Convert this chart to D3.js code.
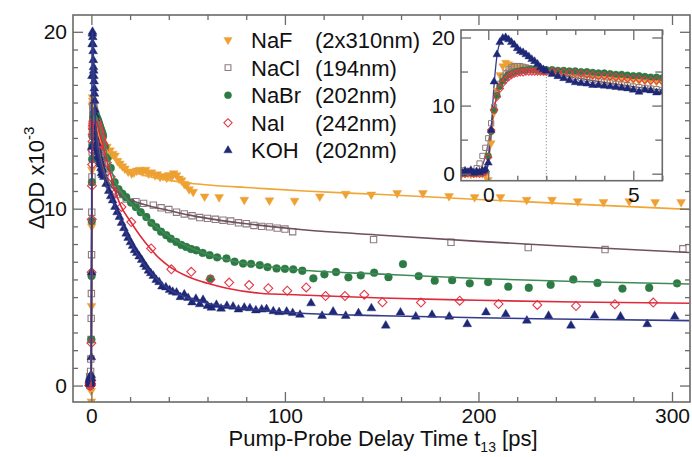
<!DOCTYPE html>
<html>
<head>
<meta charset="utf-8">
<script src="https://cdn.jsdelivr.net/npm/d3@7"></script>
<style>
  body { margin: 0; background: #fff; }
</style>
</head>
<body>
<div id="chart"></div>
<script>
// ---- data (t in ps, signal in OD x10^-3) ----
const names = ["NaF", "NaCl", "NaBr", "NaI", "KOH"];
const waves = ["(2x310nm)", "(194nm)", "(202nm)", "(242nm)", "(202nm)"];

// shared time grid of the early-time scan (inset)
const insetT = [-1.0,-0.9,-0.8,-0.7,-0.6,-0.5,-0.4,-0.3,-0.2,-0.1,0,
  0.1,0.2,0.3,0.4,0.5,0.6,0.7,0.8,0.9,1.0,1.1,1.2,1.3,1.4,1.5,1.6,1.7,1.8,1.9,2.0,
  2.2,2.4,2.6,2.8,3.0,3.2,3.4,3.6,3.8,4.0,4.2,4.4,4.6,4.8,5.0,5.2,5.4,5.6,5.8,6.0];

const nafInset = [0.1,0,0.2,0,-0.1,0.1,0,0.1,0,-0.3,-0.9,
  4.5,9,12.2,14.5,15.8,16.3,16.1,15.9,15.8,15.7,15.6,15.6,15.5,15.5,15.4,15.4,15.3,15.3,15.2,15.2,
  15.0,14.9,14.8,14.7,14.6,14.5,14.4,14.3,14.2,14.1,14.0,13.9,13.8,13.7,13.7,13.6,13.6,13.5,13.5,13.4];
const naclInset = [0.2,0.5,0,0.4,0.1,0.3,0.8,1.5,2.6,3.8,5.2,
  7.4,9.8,11.8,13.2,14.2,14.8,15.3,15.6,15.8,15.8,15.8,15.7,15.6,15.5,15.4,15.3,15.2,15.1,15.0,14.9,
  14.8,14.6,14.5,14.3,14.2,14.0,13.9,13.8,13.6,13.5,13.4,13.2,13.1,13.0,12.8,12.7,12.6,12.5,12.4,12.3];
const nabrInset = [0.1,0.2,0,0.1,0.2,0,0.1,0.2,0.1,0.4,2.6,
  6.2,9.3,11.5,12.8,13.6,14.1,14.5,14.7,14.9,15.0,15.1,15.2,15.2,15.3,15.3,15.3,15.3,15.3,15.3,15.3,
  15.3,15.2,15.2,15.1,15.1,15.0,15.0,14.9,14.8,14.8,14.7,14.6,14.6,14.5,14.4,14.4,14.3,14.2,14.2,14.1];
const naiInset = [0,0.1,0,0.2,0.1,0,0.1,0,0.1,0.3,2.4,
  6.4,9.4,11.3,12.5,13.3,13.8,14.2,14.5,14.7,14.8,14.9,14.9,15.0,15.0,15.0,15.0,15.0,15.0,15.0,15.0,
  15.0,14.9,14.9,14.8,14.8,14.7,14.6,14.5,14.4,14.4,14.3,14.2,14.1,14.0,14.0,13.9,13.8,13.7,13.7,13.6];
const kohInset = [0.3,0.1,0.4,0.2,0.5,0.1,0.3,0.2,0.4,0.6,1.6,
  6.4,13.5,17.5,19.3,19.9,20.0,19.7,19.3,18.9,18.4,18.0,17.8,17.5,17.2,16.8,16.5,16.1,15.6,15.3,15.1,
  14.6,14.3,14.0,13.7,13.4,13.3,13.2,13.0,13.0,12.9,12.8,12.7,12.6,12.5,12.3,12.0,12.3,12.2,11.9,12.0];

// later delays [t, value]
const nafMain = [[6.5,13.6],[8,13.5],[9.6,13.3],[11,13.1],[12.2,13.0],[13.5,12.7],[14.7,12.55],[16,12.4],
  [17.3,12.27],[19,12.1],[20.8,11.99],[22,12.05],[23.4,12.15],[25,12.2],[26.5,12.1],[28,12.2],[29.5,12.0],
  [31,12.05],[32.9,11.89],[34,11.95],[35.5,11.8],[37,11.85],[38.9,11.75],[40,11.9],[41.4,11.8],[42.5,12.0],
  [44,11.89],[45.3,11.7],[46.6,11.6],[48,11.4],[49.2,11.33],[50.5,11.1],[52.6,10.95],[58.5,10.69],[66,10.65],
  [79,10.5],[92,10.47],[105,10.45],[118,10.69],[131.4,10.84],[144.6,10.8],[158,10.88],[171.3,10.88],
  [184.8,10.71],[198,10.65],[211.4,10.65],[224.9,10.5],[238,10.5],[251.3,10.42],[264.6,10.37],[277.9,10.42],
  [291.3,10.37],[304.7,10.37]];
const naclMain = [[7,11.9],[9,11.4],[11,11.0],[14,10.8],[18,10.55],[23,10.4],[27,10.3],[32,10.2],[36,10.05],
  [40,9.95],[44,9.8],[48,9.7],[52,9.6],[56,9.5],[60,9.45],[64,9.4],[68,9.35],[72,9.3],[76,9.2],[80,9.15],
  [84,9.05],[88,9.0],[92,8.97],[96,8.9],[100,8.85],[104,8.7],[145.8,8.25],[185.8,8.1],[225.7,7.8],
  [265.4,7.69],[305.6,7.73]];
const nabrMain = [[7,13.5],[8.5,12.9],[10,12.3],[12,11.5],[14,11.1],[16,10.85],[18,10.65],[20.5,10.35],
  [23,10.09],[25.5,9.8],[28.4,9.53],[31,9.2],[33.5,8.96],[36,8.7],[38.7,8.5],[41,8.3],[43.9,8.12],[46.5,7.95],
  [49,7.84],[51.5,7.72],[54.2,7.65],[57.5,7.5],[61.1,7.37],[61.5,6.05],[65,7.25],[69.8,7.19],[74,7.0],
  [78.4,6.9],[82.5,6.88],[87,6.81],[91,6.7],[95.7,6.62],[100,6.6],[104.3,6.57],[109,6.49],[114.7,6.06],
  [120.4,6.29],[126.4,6.42],[132.8,6.12],[139.2,6.23],[146.1,6.38],[153.5,6.13],[161,6.87],[169.1,6.19],
  [177.4,5.93],[186.4,5.96],[195.5,5.78],[205,5.85],[215.4,5.59],[226,5.53],[237.3,5.7],[249,6.0],
  [261.5,5.8],[274.4,5.48],[288.2,5.53],[302.6,5.78]];
const naiMain = [[6.5,13.3],[8,12.6],[10,11.8],[12.5,10.9],[15.5,10.1],[20.6,9.25],[30.9,7.75],[41.3,6.57],
  [51.6,6.43],[61.5,6.0],[71.2,5.82],[81.5,5.68],[91.4,5.5],[101.2,5.36],[111,5.55],[121,5.06],[131,5.06],
  [141,5.14],[150.4,4.71],[170.3,4.69],[190.3,4.8],[210.4,4.61],[230.4,4.56],[250.4,4.5],[270.5,4.6],
  [290.3,4.69]];
const kohMain = [[6.5,11.8],[7.6,11.4],[9,11.0],[10,10.7],[11,10.47],[12.2,10.1],[13.3,9.8],[14.5,9.53],
  [15.6,9.2],[16.8,8.9],[18,8.59],[19,8.35],[20.2,8.1],[21.3,7.9],[22.3,7.65],[23.5,7.5],[24.7,7.3],[26,7.1],
  [27.2,6.85],[28.3,6.71],[29.5,6.5],[30.7,6.35],[32,6.2],[33.5,5.97],[35,5.85],[36.5,5.6],[38.5,5.55],
  [40.4,5.4],[42,5.3],[44,5.25],[46,5.0],[48,5.15],[50,4.95],[52,4.7],[54,4.9],[56,4.6],[57.7,4.84],[60,4.5],
  [62,4.4],[64.6,4.56],[67,4.35],[70,4.5],[73.2,4.46],[76,4.3],[79,4.4],[81.9,4.37],[85,4.25],[88,4.3],
  [90.5,4.32],[94,4.2],[97,4.15],[100.9,4.18],[104,4.1],[107.8,4.0],[113.5,4.65],[119.2,3.94],[124.9,4.18],
  [131.4,3.94],[138,4.09],[144.7,4.37],[152.1,3.39],[159.7,4.13],[167.6,3.9],[176,4.0],[184.9,3.9],
  [194.2,3.47],[203.9,4.14],[214.1,4.03],[225,3.67],[236.2,3.94],[247.8,3.39],[260,3.96],[273.4,3.9],
  [287.2,3.47],[301.4,3.9]];

// fitted curves [t, value]
const nafFit = [[-1,0],[-0.1,0],[0,1.5],[0.1,5],[0.2,9],[0.3,12],[0.4,13.8],[0.6,15.2],[0.8,15.7],[1.0,15.8],
  [1.5,15.6],[2,15.2],[3,14.6],[4,14.1],[5,13.8],[6,13.6],[8,13.3],[10,13.0],[12,12.8],[15,12.5],[20,12.15],
  [25,11.95],[30,11.8],[40,11.6],[50,11.45],[65,11.3],[80,11.2],[110,11.0],[150,10.8],[200,10.52],[250,10.26],
  [309,9.96]];
const naclFit = [[-1,0],[-0.4,0],[-0.2,1.2],[0,4.5],[0.2,9.5],[0.4,13],[0.6,14.8],[0.8,15.5],[1.0,15.7],
  [1.5,15.4],[2,14.9],[3,14.1],[4,13.4],[5,12.8],[6,12.3],[8,11.7],[10,11.3],[15,10.8],[20,10.5],[30,10.15],
  [40,9.9],[50,9.65],[60,9.45],[80,9.15],[108,8.82],[150,8.5],[200,8.15],[250,7.85],[309,7.52]];
const nabrFit = [[-1,0],[-0.1,0],[0,2.5],[0.1,6.5],[0.2,9.5],[0.3,11.5],[0.5,13.5],[0.7,14.4],[1.0,14.9],
  [1.5,15.2],[2,15.3],[3,15.1],[4,14.7],[5,14.35],[6,14.0],[8,13.1],[10,12.3],[12,11.6],[15,11.0],[20,10.35],
  [25,9.8],[30,9.3],[35,8.85],[40,8.45],[50,7.85],[60,7.42],[70,7.12],[80,6.9],[95,6.68],[108,6.53],
  [150,6.3],[200,6.05],[250,5.88],[309,5.74]];
const naiFit = [[-1,0],[-0.1,0],[0,2.5],[0.1,6.5],[0.2,9.5],[0.3,11.4],[0.5,13.3],[0.7,14.2],[1.0,14.8],
  [1.5,14.95],[2,15.0],[3,14.8],[4,14.35],[5,13.95],[6,13.6],[8,12.7],[10,11.9],[12,11.1],[15,10.2],[20,9.3],
  [25,8.5],[30,7.8],[35,7.2],[40,6.75],[50,6.15],[60,5.78],[70,5.5],[87,5.22],[108,5.12],[150,4.95],
  [200,4.82],[250,4.72],[309,4.65]];
const kohFit = [[-1,0.2],[-0.1,0.3],[0,1.5],[0.1,6.5],[0.2,13],[0.3,17.3],[0.4,19.2],[0.55,20.0],[0.7,19.7],
  [1.0,18.5],[1.5,16.8],[2,15.1],[2.5,14.2],[3,13.5],[4,12.9],[5,12.4],[6,12.0],[8,11.2],[11,10.4],
  [14.5,9.5],[18,8.6],[22,7.75],[28,6.75],[34,6.0],[40,5.45],[50,4.95],[60,4.65],[75,4.4],[90,4.25],
  [108,4.09],[150,3.95],[200,3.83],[250,3.75],[309,3.67]];

const mainXTicks = [0, 100, 200, 300];
const mainYTicks = [0, 10, 20];
const insetXTicks = [0, 5];
const insetYTicks = [0, 10, 20];

// ---- styles ----
const font = "'Liberation Sans', Arial, Helvetica, sans-serif";
const axisColor = "#6a6a6a";
const styles = [
  { color: "#eea032", line: "#f0a535", shape: "triDown", fill: true },
  { color: "#8c7c7e", line: "#6e5060", shape: "square", fill: false },
  { color: "#2e7a45", line: "#3f8a56", shape: "circle", fill: true },
  { color: "#e23a48", line: "#e02a3c", shape: "diamond", fill: false },
  { color: "#1e2877", line: "#333b8a", shape: "triUp", fill: true }
];
const insetVals = [nafInset, naclInset, nabrInset, naiInset, kohInset];
const mainVals = [nafMain, naclMain, nabrMain, naiMain, kohMain];
const fits = [nafFit, naclFit, nabrFit, naiFit, kohFit];

const series = names.map((name, i) => {
  const early = insetT.map((t, j) => [t, insetVals[i][j]]);
  return { name, wave: waves[i], early, all: early.concat(mainVals[i]), fit: fits[i], ...styles[i] };
});

const W = 692, H = 457;
const svg = d3.select("#chart").append("svg")
  .attr("width", W).attr("height", H)
  .style("font-family", font);

const x = d3.scaleLinear().domain([-9.5, 309.3]).range([73, 690]);
const y = d3.scaleLinear().domain([-0.93, 20.95]).range([402, 15]);
const xi = d3.scaleLinear().domain([-0.94, 6.0]).range([461, 662.3]);
const yi = d3.scaleLinear().domain([-1.03, 21.1]).range([180.7, 30]);

function symbolPath(shape, size) {
  if (shape === "circle") return d3.symbol().type(d3.symbolCircle).size(size)();
  if (shape === "square") return d3.symbol().type(d3.symbolSquare).size(size)();
  if (shape === "diamond") return d3.symbol().type(d3.symbolSquare).size(size)();
  return d3.symbol().type(d3.symbolTriangle).size(size)();
}
function symbolRotate(shape) {
  if (shape === "triDown") return 180;
  if (shape === "diamond") return 45;
  return 0;
}
function drawMarkers(g, s, data, xs, ys, size, sw) {
  g.append("g").selectAll("path")
    .data(data)
    .join("path")
    .attr("d", symbolPath(s.shape, size))
    .attr("transform", d => `translate(${xs(d[0])},${ys(d[1])}) rotate(${symbolRotate(s.shape)})`)
    .attr("fill", s.fill ? s.color : "none")
    .attr("stroke", s.color)
    .attr("stroke-width", s.fill ? 0.4 : sw);
}

function drawTicks(xs, ys, xMaj, xMin, yMaj, yMin, yMid, majLen, minLen, pad) {
  const [x0, x1] = xs.range();
  const [y0, y1] = ys.range();
  const g = svg.append("g");
  const fmt = d3.format("d");
  const add = (axis, tr, vals, len, labels) => {
    const a = g.append("g").attr("transform", tr)
      .call(axis.tickValues(vals).tickSize(-len).tickSizeOuter(0).tickPadding(pad)
        .tickFormat(labels ? fmt : ""));
    a.select(".domain").remove();
    a.selectAll("line").attr("stroke", axisColor).attr("stroke-width", 1.3);
    a.selectAll("text").attr("font-size", 21).attr("fill", "#111").attr("font-family", font);
  };
  add(d3.axisBottom(xs), `translate(0,${y0})`, xMaj, majLen, true);
  add(d3.axisBottom(xs), `translate(0,${y0})`, xMin, minLen, false);
  add(d3.axisTop(xs), `translate(0,${y1})`, xMaj, majLen, false);
  add(d3.axisTop(xs), `translate(0,${y1})`, xMin, minLen, false);
  add(d3.axisLeft(ys), `translate(${x0},0)`, yMaj, majLen, true);
  add(d3.axisLeft(ys), `translate(${x0},0)`, yMin, yMid, false);
  add(d3.axisRight(ys), `translate(${x1},0)`, yMaj, majLen, false);
  add(d3.axisRight(ys), `translate(${x1},0)`, yMin, yMid, false);
  g.append("rect")
    .attr("x", x0).attr("y", y1).attr("width", x1 - x0).attr("height", y0 - y1)
    .attr("fill", "none").attr("stroke", axisColor).attr("stroke-width", 1.6);
}

// ---- main panel ----
svg.append("clipPath").attr("id", "clipMain").append("rect")
  .attr("x", 73).attr("y", 15).attr("width", 617).attr("height", 387);
const mainG = svg.append("g").attr("clip-path", "url(#clipMain)");
const lineMain = d3.line().x(d => x(d[0])).y(d => y(d[1])).curve(d3.curveMonotoneX);

series.forEach(s => {
  drawMarkers(mainG, s, s.all, x, y, s.shape === "circle" ? 48 : (s.fill ? 34 : 40), 1.1);
});
series.forEach(s => {
  mainG.append("path").datum(s.fit)
    .attr("d", lineMain).attr("fill", "none")
    .attr("stroke", s.line).attr("stroke-width", 1.6);
});

const xMinorMain = d3.range(20, 301, 20).filter(v => v % 100 !== 0);
const yMinorMain = d3.range(1, 21).filter(v => v % 10 !== 0);
drawTicks(x, y, mainXTicks, xMinorMain, mainYTicks, yMinorMain, 5, 10, 5, 6);

// ---- inset ----
svg.append("rect").attr("x", 461).attr("y", 30).attr("width", 201.3).attr("height", 150.7).attr("fill", "#fff");
svg.append("clipPath").attr("id", "clipInset").append("rect")
  .attr("x", 461).attr("y", 30).attr("width", 201.3).attr("height", 150.7);
const insetG = svg.append("g").attr("clip-path", "url(#clipInset)");
const lineInset = d3.line().x(d => xi(d[0])).y(d => yi(d[1])).curve(d3.curveMonotoneX);

insetG.append("line")
  .attr("x1", xi(2)).attr("x2", xi(2)).attr("y1", yi(-1.03)).attr("y2", yi(14.6))
  .attr("stroke", "#8a8a8a").attr("stroke-width", 1).attr("stroke-dasharray", "1.2,2");

series.forEach(s => {
  insetG.append("path").datum(s.fit)
    .attr("d", lineInset).attr("fill", "none")
    .attr("stroke", s.line).attr("stroke-width", 1.3);
});
series.forEach(s => {
  drawMarkers(insetG, s, s.early, xi, yi, s.shape === "circle" ? 34 : (s.fill ? 28 : 28), 1);
});

drawTicks(xi, yi, insetXTicks, [1, 2, 3, 4, 6], insetYTicks, [5, 15], 7, 10, 5, 6);

// ---- legend ----
const legend = svg.append("g");
series.forEach((s, i) => {
  const ly = 40 + i * 27.6;
  legend.append("path")
    .attr("d", symbolPath(s.shape, s.shape === "circle" ? 40 : (s.fill ? 30 : 34)))
    .attr("transform", `translate(228,${ly}) rotate(${symbolRotate(s.shape)})`)
    .attr("fill", s.fill ? s.color : "none")
    .attr("stroke", s.color).attr("stroke-width", s.fill ? 0.4 : 1.1);
  legend.append("text").attr("x", 251).attr("y", ly).attr("dy", "0.36em")
    .attr("font-size", 22).attr("fill", "#111").text(s.name);
  legend.append("text").attr("x", 315).attr("y", ly).attr("dy", "0.36em")
    .attr("font-size", 22).attr("fill", "#111").text(s.wave);
});

// ---- axis titles ----
const xt = svg.append("text").attr("x", 383).attr("y", 446)
  .attr("text-anchor", "middle").attr("font-size", 22).attr("fill", "#111");
xt.append("tspan").text("Pump-Probe Delay Time t");
xt.append("tspan").attr("font-size", 14).attr("dy", 6).text("13");
xt.append("tspan").attr("dy", -6).text(" [ps]");

const yt = svg.append("text").attr("transform", "translate(44,178) rotate(-90)")
  .attr("text-anchor", "middle").attr("font-size", 22).attr("fill", "#111");
yt.append("tspan").text("\u0394OD x10");
yt.append("tspan").attr("font-size", 15).attr("dy", -10).text("-3");
</script>
</body>
</html>
